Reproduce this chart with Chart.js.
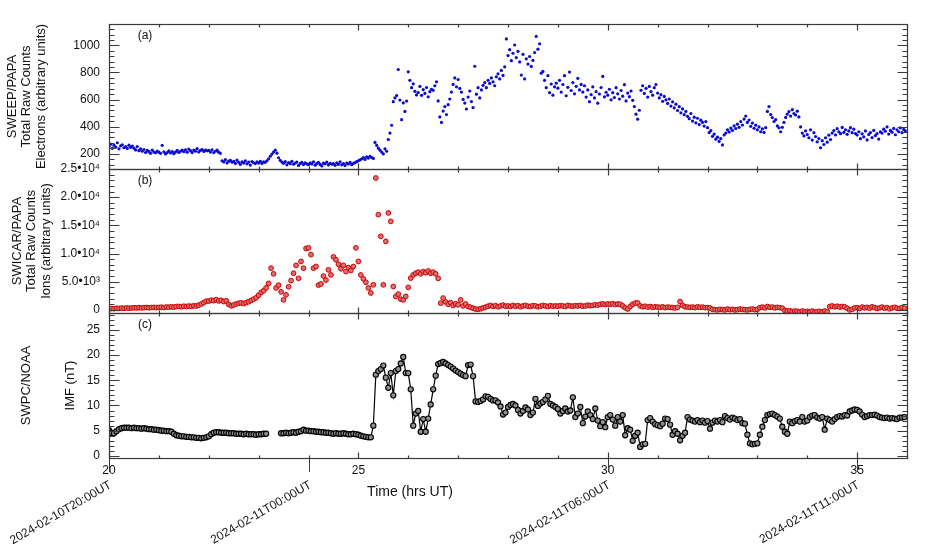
<!DOCTYPE html>
<html lang="en">
<head>
<meta charset="UTF-8">
<title>SWEEP / SWICAR / SWPC</title>
<script src="https://cdn.jsdelivr.net/npm/chart.js@4.4.1/dist/chart.umd.min.js"></script>
<style>
*{margin:0;padding:0}
body{background:#fff;width:939px;height:552px;overflow:hidden}
.wrap{position:relative;width:939px;height:552px}
.wrap canvas{position:absolute;left:0;top:0}
</style>
</head>
<body>
<div class="wrap">
<canvas id="elec" width="939" height="552"></canvas>
<canvas id="ions" width="939" height="552"></canvas>
<canvas id="imf" width="939" height="552"></canvas>
</div>
<script>
// time axis, hours UT
const hrMin = 20, hrMax = 36;
const hrMajor = [20, 25, 30, 35];
const dateTicks = [20, 24, 30, 35];
const dateLabels = ['2024-02-10T20:00UT', '2024-02-11T00:00UT', '2024-02-11T06:00UT', '2024-02-11T11:00UT'];

// (a) SWEEP/PAPA electrons, one sample every 2 min (rows = half hours)
const elecStart = 20, elecStep = 1 / 30;
const elecCounts = [
  255, 270, 240, 262, 248, 281, 236, 258, 266, 244, 252, 239, 263, 247, 256,
  241, 228, 253, 222, 235, 218, 231, 209, 224, 215, 203, 226, 212, 207, 219,
  211, 203, 262, 214, 198, 208, 221, 205, 216, 200, 212, 224, 209, 218, 226,
  215, 229, 211, 234, 222, 208, 227, 219, 238, 213, 224, 231, 217, 226, 221,
  224, 212, 229, 208, 218, 226, 211, 203, 148, 139, 156, 132, 145, 151, 137,
  143, 128, 152, 136, 121, 140, 131, 147, 125, 138, 116, 142, 133, 127, 139,
  131, 144, 128, 139, 136, 148, 162, 181, 197, 212, 226, 204, 170, 150, 138,
  129, 141, 118, 135, 126, 144, 122, 131, 138, 113, 127, 136, 120, 133, 125,
  119, 132, 124, 140, 115, 128, 136, 121, 110, 130, 125, 138, 117, 129, 122,
  126, 114, 133, 121, 139, 118, 127, 112, 131, 124, 136, 119, 128, 134, 141,
  148, 155, 162, 171, 158, 176, 168, 181, 172, 165, 283, 262, 241, 226, 212,
  198, 236, 218, 305, 352, 410, 584, 612, 630, 822, 596, 451, 575, 512, 589,
  805, 742, 688, 716, 661, 634, 652, 697, 631, 673, 645, 689, 620, 658, 676,
  668, 702, 731, 590, 472, 431, 515, 548, 489, 562, 604, 655, 712, 760, 694,
  748, 682, 655, 601, 574, 530, 618, 663, 585, 541, 846, 640, 688, 612, 671,
  705, 726, 688, 742, 719, 760, 731, 702, 768, 790, 752, 815, 778, 842, 1048,
  925, 968, 887, 942, 1003, 910, 956, 878, 781, 934, 752, 901, 862, 918, 845,
  889, 947, 1066, 972, 1012, 795, 808, 742, 688, 776, 651, 715, 632, 694, 721,
  684, 742, 655, 711, 776, 628, 690, 803, 667, 725, 642, 698, 757, 671, 712,
  655, 702, 618, 671, 584, 636, 694, 612, 658, 573, 641, 689, 771, 620, 654,
  632, 676, 598, 651, 615, 688, 642, 604, 667, 625, 710, 590, 648, 621, 663,
  594, 548, 492, 455, 521, 668, 702, 645, 683, 618, 697, 659, 632, 688, 711,
  648, 612, 636, 587, 623, 598, 571, 604, 552, 583, 538, 566, 519, 547, 502,
  531, 488, 512, 476, 459, 497, 441, 470, 428, 462, 415, 448, 431, 404, 437,
  392, 356, 371, 328, 345, 307, 322, 291, 312, 265, 338, 352, 376, 361, 389,
  372, 405, 386, 418, 395, 437, 412, 456, 478, 431, 449, 402, 426, 388, 411,
  376, 398, 362, 384, 357, 392, 512, 548, 489, 467, 438, 452, 405, 391, 362,
  395, 431, 468, 492, 511, 478, 525, 497, 486, 514, 472, 398, 352, 331, 368,
  342, 318, 376, 301, 355, 327, 288, 312, 244, 296, 268, 318, 285, 337, 304,
  352, 371, 339, 385, 362, 348, 394, 357, 376, 343, 368, 392, 355, 381, 349,
  338, 362, 311, 347, 325, 368, 302, 341, 356, 319, 372, 334, 349, 308, 361,
  352, 381, 366, 398, 345, 372, 359, 387, 340, 376, 362, 391, 355, 379, 368
];

// (b) SWICAR/PAPA ions, one sample every 3 min (rows = hours)
const ionStart = 20, ionStep = 0.05;
const ionCounts = [
  180, 240, 210, 290, 260, 320, 280, 350, 300, 330, 380, 340, 410, 360, 390, 430, 370, 420, 450, 400,
  440, 470, 420, 510, 480, 550, 500, 590, 620, 560, 650, 600, 680, 640, 720, 690, 850, 1050, 1300, 1550,
  1550, 1720, 1640, 1810, 1590, 1700, 1480, 1620, 980, 720, 860, 1050, 1180, 1240, 1120, 1300, 1450, 1680, 1900, 2150,
  2600, 3100, 3400, 3900, 4700, 7400, 6400, 3900, 4400, 3200, 1780, 2670, 4100, 5200, 6500, 7900, 5600, 8600, 7400, 10900,
  11000, 9800, 7400, 7700, 4400, 4600, 6000, 5300, 7100, 6200, 9400, 8900, 8100, 7300, 7900, 6800, 7500, 7000, 7700, 11000,
  8600, 6200, 5500, 4900, 3900, 3000, 4450, 23400, 16900, 13050, 4450, 12160, 17200, 15700, 4150, 2400, 2800, 1900, 1780, 2400,
  4000, 5640, 6200, 6500, 6700, 6400, 6800, 6600, 6900, 6500, 6700, 6400, 5600, 1190, 2100, 1400, 1000, 1300, 800, 1100,
  900, 1780, 700, 1050, 600, 450, 300, 150, 100, 200, 350, 500, 650, 800, 600, 750, 550, 700, 850, 650,
  700, 600, 800, 650, 750, 550, 700, 800, 650, 600, 750, 700, 550, 650, 800, 700, 600, 750, 650, 700,
  650, 750, 700, 600, 800, 700, 650, 750, 700, 800, 650, 700, 850, 750, 800, 900, 850, 1000, 1050, 950,
  1050, 1000, 1100, 950, 1050, 1000, 700, 350, 150, 600, 1000, 1200, 1250, 700, 550, 650, 500, 600, 450, 550,
  500, 450, 550, 400, 500, 450, 400, 350, 450, 1480, 800, 550, 500, 450, 500, 400, 550, 450, 500, 400,
  400, 350, 100, 50, 0, 100, 50, 0, 150, 50, 100, 0, 50, 150, 100, 50, 0, 100, 150, 50,
  100, 400, 500, 350, 600, 450, 500, 350, 450, 400, 300, -100, -200, -150, -300, -200, -250, -350, -200, -300,
  -250, -350, -200, -400, -300, -250, -350, -200, -300, 600, 700, 550, 650, 500, 600, 550, 300, 0, 100, 350,
  400, 250, 500, 350, 450, 300, 550, 400, 250, 350, 500, 300, 400, 200, 350, 450, 300, 250, 400, 300
];

// (c) SWPC/NOAA IMF magnitude, nT, every 3 min (null = data gap)
const imfStart = 20, imfStep = 0.05;
const imfNT = [
  5.1, 4.6, 4.5, 4.9, 5.3, 5.5, 5.6, 5.6, 5.6, 5.5, 5.6, 5.5, 5.5, 5.4, 5.5, 5.4, 5.3, 5.3, 5.2, 5.2,
  5.1, 5.0, 5.0, 4.9, 4.9, 4.8, 4.4, 4.1, 4.0, 3.9, 3.9, 3.8, 3.8, 3.7, 3.7, 3.6, 3.6, 3.5, 3.6, 3.7,
  3.9, 4.3, 4.6, 4.7, 4.7, 4.6, 4.6, 4.6, 4.5, 4.5, 4.5, 4.4, 4.4, 4.4, 4.3, 4.4, 4.3, 4.3, 4.3, 4.2,
  4.3, 4.3, 4.4, 4.4, null, null, null, null, null, 4.5, 4.5, 4.6, 4.5, 4.6, 4.7, 4.6, 4.8, 4.9, 5.2, 5.0,
  5.0, 4.9, 4.9, 4.8, 4.8, 4.7, 4.7, 4.6, 4.6, 4.5, 4.4, 4.5, 4.4, 4.4, 4.5, 4.4, 4.3, 4.3, 4.4, 4.3,
  4.2, 4.0, 3.9, 3.8, 3.7, 3.7, 6.0, 16.1, 16.8, 17.2, 17.9, 15.5, 13.5, 16.4, 12.0, 16.8, 17.2, 18.3, 19.6, 16.4,
  16.4, 13.2, 6.0, 8.4, 8.9, 4.8, 7.3, 4.8, 7.4, 10.2, 13.2, 15.9, 18.2, 18.4, 18.6, 18.3, 18.0, 17.7, 17.3, 16.9,
  16.6, 16.3, 16.0, 15.8, 18.0, 18.1, 15.8, 10.8, 10.7, 10.9, 11.2, 11.8, 11.7, 11.3, 11.0, 11.0, 10.6, 9.8, 8.2, 8.6,
  9.7, 10.1, 10.3, 10.0, 9.1, 8.4, 8.9, 9.6, 9.2, 8.1, 8.6, 11.3, 9.9, 10.4, 10.7, 11.2, 11.9, 10.3, 10.0, 9.7,
  9.3, 8.4, 8.9, 9.4, 8.8, 9.0, 11.6, 7.7, 8.4, 9.7, 6.5, 7.8, 8.8, 8.1, 7.3, 9.4, 7.0, 5.9, 6.7, 5.7,
  7.7, 8.1, 7.2, 6.0, 7.7, 6.8, 8.1, 4.1, 5.5, 5.2, 3.0, 4.0, 4.6, 1.8, 2.3, 2.4, 7.1, 7.5, 6.8, 6.3,
  6.1, 5.9, 6.4, 7.4, 7.3, 6.2, 4.2, 4.9, 4.4, 3.1, 4.0, 4.6, 7.7, 7.2, 7.0, 6.8, 7.1, 6.7, 7.0, 6.6,
  6.9, 5.4, 6.6, 7.0, 6.8, 7.1, 6.7, 7.9, 7.5, 7.2, 7.6, 7.4, 7.1, 7.3, 6.5, 6.4, 4.2, 2.5, 2.3, 2.4,
  2.5, 4.2, 5.8, 7.1, 8.1, 8.3, 8.4, 8.1, 7.8, 7.4, 5.8, 4.8, 4.4, 6.8, 6.5, 6.9, 7.1, 6.8, 7.7, 6.8,
  7.0, 7.7, 8.0, 8.1, 7.6, 7.4, 7.7, 5.2, 7.4, 7.1, 6.8, 7.3, 7.7, 7.9, 7.8, 8.1, 8.0, 8.8, 9.0, 9.2,
  9.1, 8.8, 8.2, 7.7, 7.9, 8.1, 8.1, 8.2, 8.0, 7.7, 7.6, 7.5, 7.6, 7.4, 7.5, 7.4, 7.3, 7.6, 7.6, 7.7
];

// y axis ticks
const elecTicks = [200, 400, 600, 800, 1000];
const ionTicks = [0, 5000, 10000, 15000, 20000, 25000];
const ionTickLabels = ['0', '5.0•10³', '1.0•10⁴', '1.5•10⁴', '2.0•10⁴', '2.5•10⁴'];
const imfTicks = [0, 5, 10, 15, 20, 25];

const FONT = '"Liberation Sans", Arial, Helvetica, sans-serif';
Chart.defaults.font.family = FONT;
Chart.defaults.color = '#111';

const toPoints = (t0, dt, vals) => vals.map((v, i) => ({ x: t0 + i * dt, y: v }));

// IDL style box with inward ticks on all four sides + panel letter
const axisBox = {
  id: 'axisBox',
  afterDatasetsDraw(chart, args, o) {
    const { ctx, chartArea: a } = chart;
    const xs = chart.scales.x, ys = chart.scales.y;
    const L = a.left + 0.5, R = a.right + 0.5, T = a.top + 0.5, B = a.bottom + 0.5;
    ctx.save();
    ctx.strokeStyle = '#3a3a3a';
    ctx.lineWidth = 1.2;
    ctx.strokeRect(L, T, R - L, B - T);
    ctx.beginPath();
    for (let h = hrMin; h <= hrMax; h++) {
      const px = Math.round(xs.getPixelForValue(h)) + 0.5;
      const len = hrMajor.includes(h) ? 6 : 3;
      ctx.moveTo(px, T); ctx.lineTo(px, T + len);
      ctx.moveTo(px, B); ctx.lineTo(px, B - len);
    }
    for (let v = o.minorFrom; v <= ys.max; v += o.minorStep) {
      if (v < ys.min) continue;
      const py = Math.round(ys.getPixelForValue(v)) + 0.5;
      const len = o.major.includes(v) ? 10 : 5;
      ctx.moveTo(L, py); ctx.lineTo(L + len, py);
      ctx.moveTo(R, py); ctx.lineTo(R - len, py);
    }
    ctx.stroke();
    ctx.fillStyle = '#111';
    ctx.font = '12px ' + FONT;
    ctx.textAlign = 'center';
    ctx.textBaseline = 'middle';
    ctx.fillText(o.label, a.left + 36, a.top + 12);
    ctx.restore();
  }
};

// rotated date labels + axis title under the bottom panel
const dateAxis = {
  id: 'dateAxis',
  afterDraw(chart) {
    const { ctx, chartArea: a } = chart;
    const xs = chart.scales.x;
    ctx.save();
    ctx.strokeStyle = '#3a3a3a';
    ctx.lineWidth = 1;
    ctx.fillStyle = '#111';
    ctx.font = '12px ' + FONT;
    dateTicks.forEach((h, i) => {
      const px = Math.round(xs.getPixelForValue(h)) + 0.5;
      ctx.beginPath();
      ctx.moveTo(px, a.bottom);
      ctx.lineTo(px, a.bottom + 14);
      ctx.stroke();
      ctx.save();
      ctx.translate(px - 2, a.bottom + 21);
      ctx.rotate(-Math.PI / 6);
      ctx.textAlign = 'right';
      ctx.textBaseline = 'top';
      ctx.fillText(dateLabels[i], 0, 0);
      ctx.restore();
    });
    ctx.font = '14px ' + FONT;
    ctx.textAlign = 'center';
    ctx.textBaseline = 'middle';
    ctx.fillText('Time (hrs UT)', 410, a.bottom + 34);
    ctx.restore();
  }
};

function yAxis(min, max, ticks, labelFn, titleLines, titlePad) {
  return {
    type: 'linear', min, max,
    afterBuildTicks: s => { s.ticks = ticks.map(v => ({ value: v })); },
    afterFit: s => { s.width = 109; },
    grid: { display: false, drawTicks: false },
    border: { display: false },
    ticks: { padding: 9, autoSkip: false, font: { size: 12 }, color: '#111', callback: labelFn },
    title: {
      display: true, text: titleLines, color: '#111',
      font: { size: 13, lineHeight: '14.5px' },
      padding: { top: titlePad, bottom: 0 }
    }
  };
}

const hiddenX = { type: 'linear', min: hrMin, max: hrMax, display: false };

function panel(id, top, bottom, dataset, x, y, box, extra) {
  return new Chart(document.getElementById(id), {
    type: 'scatter',
    data: { datasets: [dataset] },
    options: {
      responsive: false,
      animation: false,
      events: [],
      layout: { padding: { top, bottom, left: 0, right: 32 } },
      plugins: { legend: { display: false }, tooltip: { enabled: false }, axisBox: box },
      scales: { x, y }
    },
    plugins: [axisBox].concat(extra || [])
  });
}

// (a)
panel('elec', 24, 552 - 169, {
  data: toPoints(elecStart, elecStep, elecCounts),
  pointRadius: 1.6, pointBorderWidth: 0,
  pointBackgroundColor: '#0a0ad2', showLine: false
}, hiddenX,
  yAxis(87, 1158, elecTicks, v => String(v), ['SWEEP/PAPA', 'Total Raw Counts', 'Electrons (arbitrary units)'], 5),
  { label: '(a)', major: elecTicks, minorFrom: 0, minorStep: 40 });

// (b)
panel('ions', 169, 552 - 313, {
  data: toPoints(ionStart, ionStep, ionCounts),
  pointRadius: 2.4, pointBorderWidth: 1,
  pointBorderColor: '#d00000', pointBackgroundColor: '#d97070', showLine: false
}, hiddenX,
  yAxis(-550, 25000, ionTicks, v => ionTickLabels[ionTicks.indexOf(v)], ['SWICAR/PAPA', 'Total Raw Counts', 'Ions (arbitrary units)'], 10),
  { label: '(b)', major: ionTicks, minorFrom: 0, minorStep: 1000 });

// (c)
panel('imf', 313, 0, {
  data: toPoints(imfStart, imfStep, imfNT),
  showLine: true, spanGaps: false,
  borderColor: '#000', borderWidth: 1.2,
  pointRadius: 2.6, pointBorderWidth: 1.1,
  pointBorderColor: '#000', pointBackgroundColor: '#8f8f8f'
}, {
  type: 'linear', min: hrMin, max: hrMax,
  afterBuildTicks: s => { s.ticks = hrMajor.map(v => ({ value: v })); },
  afterFit: s => { s.height = 94; },
  grid: { display: false, drawTicks: false },
  border: { display: false },
  ticks: { padding: 5, autoSkip: false, maxRotation: 0, font: { size: 12 }, color: '#111', callback: v => String(v) }
},
  yAxis(-0.4, 28.3, imfTicks, v => String(v), ['SWPC/NOAA', '', '', 'IMF (nT)'], 19.5),
  { label: '(c)', major: imfTicks, minorFrom: 0, minorStep: 1 },
  [dateAxis]);
</script>
</body>
</html>
